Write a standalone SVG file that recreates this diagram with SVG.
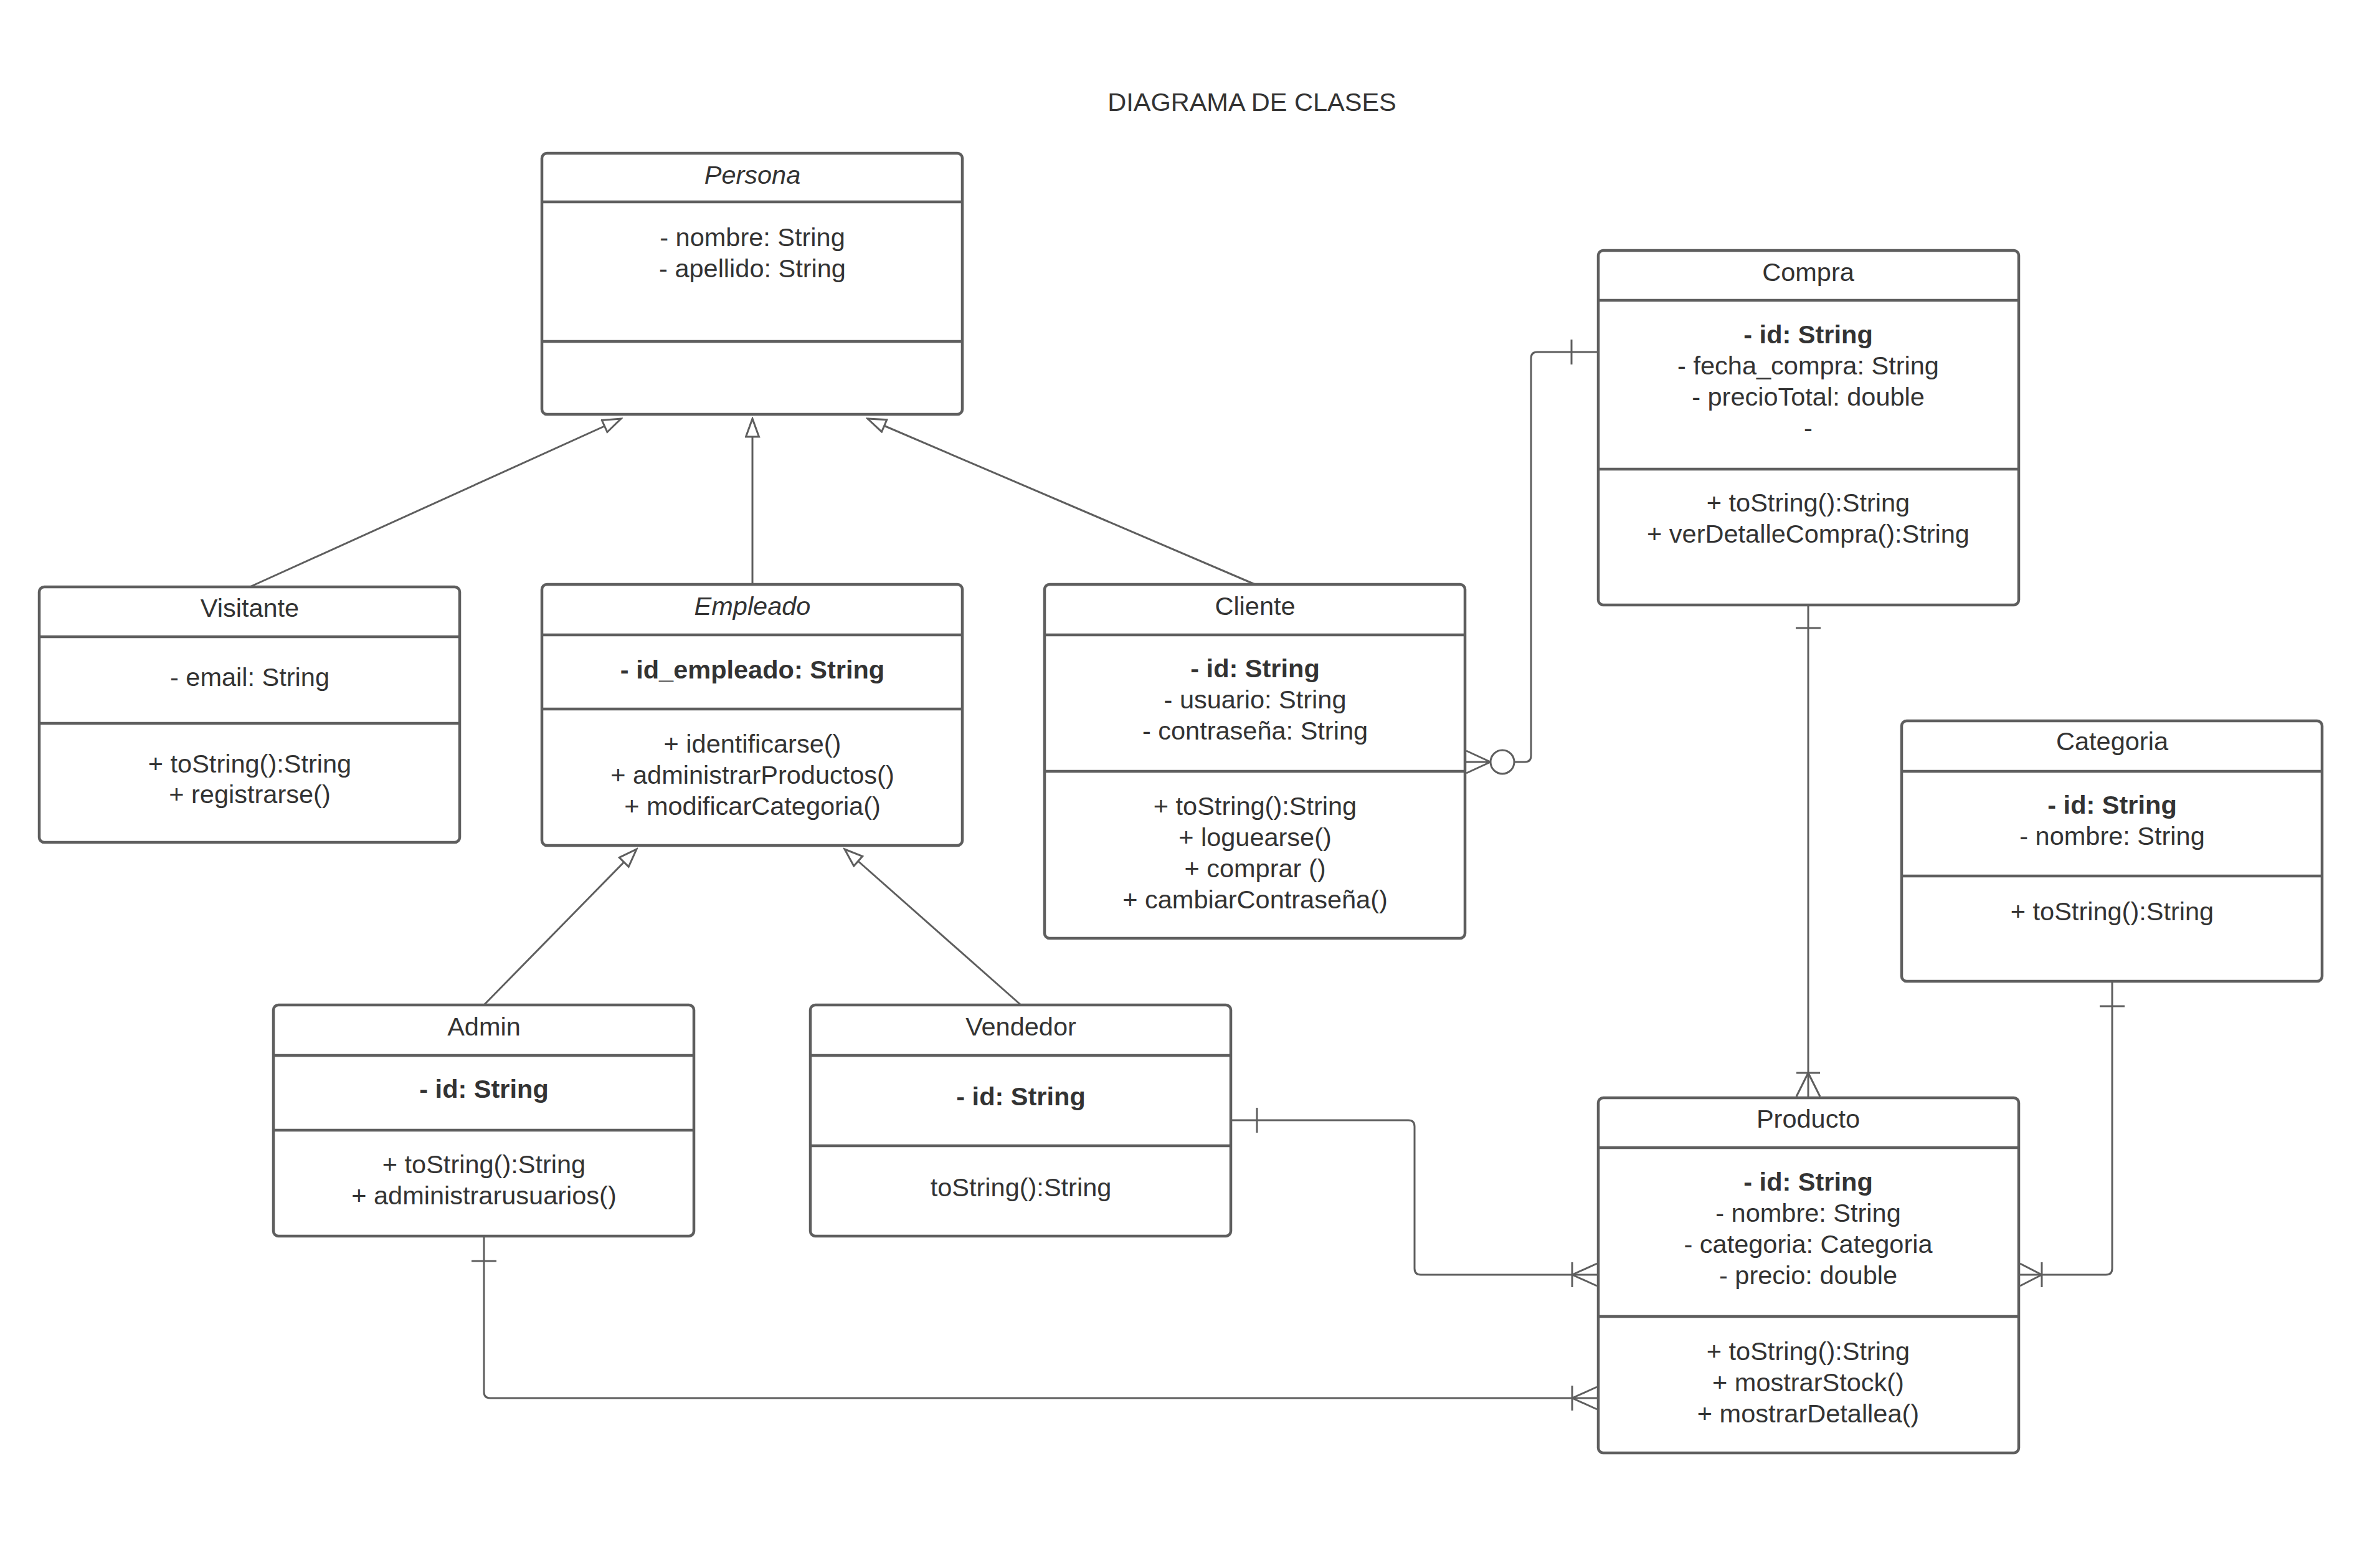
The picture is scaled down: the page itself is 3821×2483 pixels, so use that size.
<svg xmlns="http://www.w3.org/2000/svg" width="3821" height="2483" viewBox="0 0 3821 2483">
  <style>
    .box { fill: #ffffff; stroke: #5e5e5e; stroke-width: 4.5; }
    .sep { stroke: #5e5e5e; stroke-width: 4.5; }
    .t { font-family: "Liberation Sans", Arial, sans-serif; font-size: 41.5px; fill: #333333; text-anchor: middle; }
    .i { font-style: italic; }
    .b { font-weight: bold; }
    .con { fill: none; stroke: #5e5e5e; stroke-width: 3; }
    .gen { fill: none; stroke: #5e5e5e; stroke-width: 3; marker-end: url(#hollow); }
  </style>
  <defs>
    <!-- hollow triangle for generalization -->
    <marker id="hollow" markerUnits="userSpaceOnUse" markerWidth="34" markerHeight="26" refX="31" refY="12" orient="auto">
      <path d="M2,1.5 L31,12 L2,22.5 Z" fill="#ffffff" stroke="#5e5e5e" stroke-width="3"/>
    </marker>
  </defs>
  <rect width="3821" height="2483" fill="#ffffff"/>

  <text class="t" x="2010" y="178">DIAGRAMA DE CLASES</text>

  <!-- connectors -->
  <g id="connectors">
    <!-- generalizations -->
    <line class="gen" x1="401" y1="942" x2="997" y2="672"/>
    <line class="gen" x1="1208" y1="938" x2="1208" y2="672"/>
    <line class="gen" x1="2015" y1="938" x2="1393" y2="672"/>
    <line class="gen" x1="777" y1="1613" x2="1022" y2="1363"/>
    <line class="gen" x1="1639" y1="1613" x2="1356" y2="1363"/>

    <!-- Compra - Cliente -->
    <path class="con" d="M2566,565 H2468 Q2458,565 2458,575 V1213 Q2458,1223 2448,1223 H2431"/>
    <path class="con" d="M2393,1223 H2354 M2393,1223 L2354,1205 M2393,1223 L2354,1241"/>
    <circle cx="2412" cy="1223" r="19" fill="#ffffff" stroke="#5e5e5e" stroke-width="3"/>
    <line class="con" x1="2523" y1="545" x2="2523" y2="585"/>

    <!-- Compra - Producto -->
    <path class="con" d="M2903,973 V1760"/>
    <line class="con" x1="2883" y1="1008" x2="2923" y2="1008"/>
    <line class="con" x1="2884" y1="1722" x2="2922" y2="1722"/>
    <path class="con" d="M2903,1722 L2884,1760 M2903,1722 L2922,1760"/>

    <!-- Categoria - Producto -->
    <path class="con" d="M3391,1577 V2036 Q3391,2046 3381,2046 H3243"/>
    <line class="con" x1="3371" y1="1615" x2="3411" y2="1615"/>
    <line class="con" x1="3278" y1="2026" x2="3278" y2="2066"/>
    <path class="con" d="M3278,2046 L3243,2028 M3278,2046 L3243,2064"/>

    <!-- Vendedor - Producto -->
    <path class="con" d="M1978,1798 H2261 Q2271,1798 2271,1808 V2036 Q2271,2046 2281,2046 H2564"/>
    <line class="con" x1="2018" y1="1778" x2="2018" y2="1818"/>
    <line class="con" x1="2524" y1="2026" x2="2524" y2="2066"/>
    <path class="con" d="M2524,2046 L2564,2028 M2524,2046 L2564,2064"/>

    <!-- Admin - Producto -->
    <path class="con" d="M777,1986 V2234 Q777,2244 787,2244 H2564"/>
    <line class="con" x1="757" y1="2024" x2="797" y2="2024"/>
    <line class="con" x1="2524" y1="2224" x2="2524" y2="2264"/>
    <path class="con" d="M2524,2244 L2564,2226 M2524,2244 L2564,2262"/>
  </g>

  <!-- classes -->
  <g id="persona">
    <rect class="box" x="870" y="246" width="675" height="419" rx="8"/>
    <line class="sep" x1="870" y1="324" x2="1545" y2="324"/>
    <line class="sep" x1="870" y1="548" x2="1545" y2="548"/>
    <text class="t i" x="1208" y="295">Persona</text>
    <text class="t" x="1208" y="395">- nombre: String</text>
    <text class="t" x="1208" y="445">- apellido: String</text>
  </g>

  <g id="visitante">
    <rect class="box" x="63" y="942" width="675" height="410" rx="8"/>
    <line class="sep" x1="63" y1="1022" x2="738" y2="1022"/>
    <line class="sep" x1="63" y1="1161" x2="738" y2="1161"/>
    <text class="t" x="401" y="990">Visitante</text>
    <text class="t" x="401" y="1101">- email: String</text>
    <text class="t" x="401" y="1240">+ toString():String</text>
    <text class="t" x="401" y="1289">+ registrarse()</text>
  </g>

  <g id="empleado">
    <rect class="box" x="870" y="938" width="675" height="419" rx="8"/>
    <line class="sep" x1="870" y1="1019" x2="1545" y2="1019"/>
    <line class="sep" x1="870" y1="1138" x2="1545" y2="1138"/>
    <text class="t i" x="1208" y="987">Empleado</text>
    <text class="t b" x="1208" y="1089">- id_empleado: String</text>
    <text class="t" x="1208" y="1208">+ identificarse()</text>
    <text class="t" x="1208" y="1258">+ administrarProductos()</text>
    <text class="t" x="1208" y="1308">+ modificarCategoria()</text>
  </g>

  <g id="cliente">
    <rect class="box" x="1677" y="938" width="675" height="568" rx="8"/>
    <line class="sep" x1="1677" y1="1019" x2="2352" y2="1019"/>
    <line class="sep" x1="1677" y1="1238" x2="2352" y2="1238"/>
    <text class="t" x="2015" y="987">Cliente</text>
    <text class="t b" x="2015" y="1087">- id: String</text>
    <text class="t" x="2015" y="1137">- usuario: String</text>
    <text class="t" x="2015" y="1187">- contraseña: String</text>
    <text class="t" x="2015" y="1308">+ toString():String</text>
    <text class="t" x="2015" y="1358">+ loguearse()</text>
    <text class="t" x="2015" y="1408">+ comprar ()</text>
    <text class="t" x="2015" y="1458">+ cambiarContraseña()</text>
  </g>

  <g id="compra">
    <rect class="box" x="2566" y="402" width="675" height="569" rx="8"/>
    <line class="sep" x1="2566" y1="482" x2="3241" y2="482"/>
    <line class="sep" x1="2566" y1="753" x2="3241" y2="753"/>
    <text class="t" x="2903" y="451">Compra</text>
    <text class="t b" x="2903" y="551">- id: String</text>
    <text class="t" x="2903" y="601">- fecha_compra: String</text>
    <text class="t" x="2903" y="651">- precioTotal: double</text>
    <text class="t" x="2903" y="701">-</text>
    <text class="t" x="2903" y="821">+ toString():String</text>
    <text class="t" x="2903" y="871">+ verDetalleCompra():String</text>
  </g>

  <g id="categoria">
    <rect class="box" x="3053" y="1157" width="675" height="418" rx="8"/>
    <line class="sep" x1="3053" y1="1238" x2="3728" y2="1238"/>
    <line class="sep" x1="3053" y1="1406" x2="3728" y2="1406"/>
    <text class="t" x="3391" y="1204">Categoria</text>
    <text class="t b" x="3391" y="1306">- id: String</text>
    <text class="t" x="3391" y="1356">- nombre: String</text>
    <text class="t" x="3391" y="1477">+ toString():String</text>
  </g>

  <g id="admin">
    <rect class="box" x="439" y="1613" width="675" height="371" rx="8"/>
    <line class="sep" x1="439" y1="1694" x2="1114" y2="1694"/>
    <line class="sep" x1="439" y1="1814" x2="1114" y2="1814"/>
    <text class="t" x="777" y="1662">Admin</text>
    <text class="t b" x="777" y="1762">- id: String</text>
    <text class="t" x="777" y="1883">+ toString():String</text>
    <text class="t" x="777" y="1933">+ administrarusuarios()</text>
  </g>

  <g id="vendedor">
    <rect class="box" x="1301" y="1613" width="675" height="371" rx="8"/>
    <line class="sep" x1="1301" y1="1694" x2="1976" y2="1694"/>
    <line class="sep" x1="1301" y1="1839" x2="1976" y2="1839"/>
    <text class="t" x="1639" y="1662">Vendedor</text>
    <text class="t b" x="1639" y="1774">- id: String</text>
    <text class="t" x="1639" y="1920">toString():String</text>
  </g>

  <g id="producto">
    <rect class="box" x="2566" y="1762" width="675" height="570" rx="8"/>
    <line class="sep" x1="2566" y1="1842" x2="3241" y2="1842"/>
    <line class="sep" x1="2566" y1="2113" x2="3241" y2="2113"/>
    <text class="t" x="2903" y="1810">Producto</text>
    <text class="t b" x="2903" y="1911">- id: String</text>
    <text class="t" x="2903" y="1961">- nombre: String</text>
    <text class="t" x="2903" y="2011">- categoria: Categoria</text>
    <text class="t" x="2903" y="2061">- precio: double</text>
    <text class="t" x="2903" y="2183">+ toString():String</text>
    <text class="t" x="2903" y="2233">+ mostrarStock()</text>
    <text class="t" x="2903" y="2283">+ mostrarDetallea()</text>
  </g>
</svg>
